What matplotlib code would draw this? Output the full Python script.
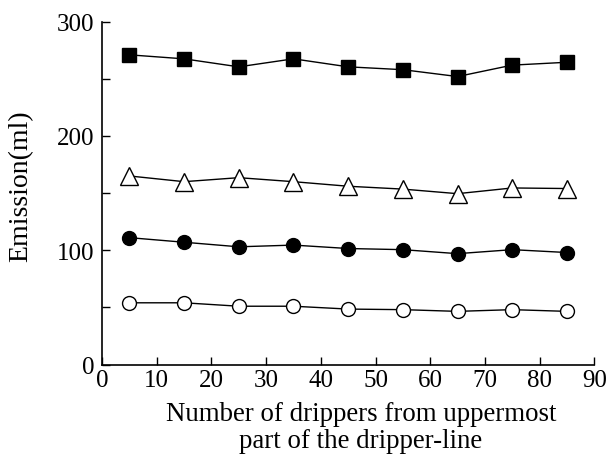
import matplotlib
matplotlib.use('Agg')
import matplotlib.pyplot as plt
from matplotlib.ticker import MultipleLocator

# drippers position along the line
x = [5, 15, 25, 35, 45, 55, 65, 75, 85]
squares = [271, 267.5, 260.5, 267.5, 260.5, 258, 252, 262, 264.5]
triangles = [165, 160, 163.5, 160, 156, 153.5, 149.5, 154.5, 154]
dots = [111, 107, 103, 104.5, 101.5, 100.5, 97, 100.5, 98]
circles = [54, 54, 51, 51, 48.5, 48, 46.5, 48, 46.5]

plt.rcParams['font.family'] = ['Liberation Serif', 'DejaVu Serif']

fig = plt.figure(figsize=(6.09, 4.56), dpi=100)
ax = fig.add_axes([102 / 609, 1 - 365.5 / 456, 492.3 / 609, 342.8 / 456])

ax.plot(x, squares, color='black', lw=1, marker='s', ms=10.4, mfc='black', clip_on=False)
ax.plot(x, triangles, color='black', lw=1, marker='^', ms=13, mfc='white', mec='black', mew=1, clip_on=False)
ax.plot(x, dots, color='black', lw=1, marker='o', ms=10, mfc='black', clip_on=False)
ax.plot(x, circles, color='black', lw=1, marker='o', ms=10, mfc='white', mec='black', mew=1, clip_on=False)

ax.set_xlim(0, 90)
ax.set_ylim(0, 300)
ax.xaxis.set_major_locator(MultipleLocator(10))
ax.yaxis.set_major_locator(MultipleLocator(100))
ax.yaxis.set_minor_locator(MultipleLocator(50))
ax.tick_params(direction='in', length=6, width=1, labelsize=18)
ax.tick_params(which='minor', direction='in', length=6, width=1)
ax.tick_params(axis='x', pad=3)
ax.tick_params(axis='y', pad=5.5)

for s in ['top', 'right']:
    ax.spines[s].set_visible(False)
for s in ['left', 'bottom']:
    ax.spines[s].set_linewidth(1.2)

fig.text(21 / 609, 1 - 186 / 456, 'Emission(ml)', fontsize=20, rotation=90,
         ha='center', va='center')
fig.text(361 / 609, 1 - 428 / 456, 'Number of drippers from uppermost\npart of the dripper-line',
         fontsize=19.4, ha='center', va='center', linespacing=1.12)

plt.savefig('out.png', dpi=100)
